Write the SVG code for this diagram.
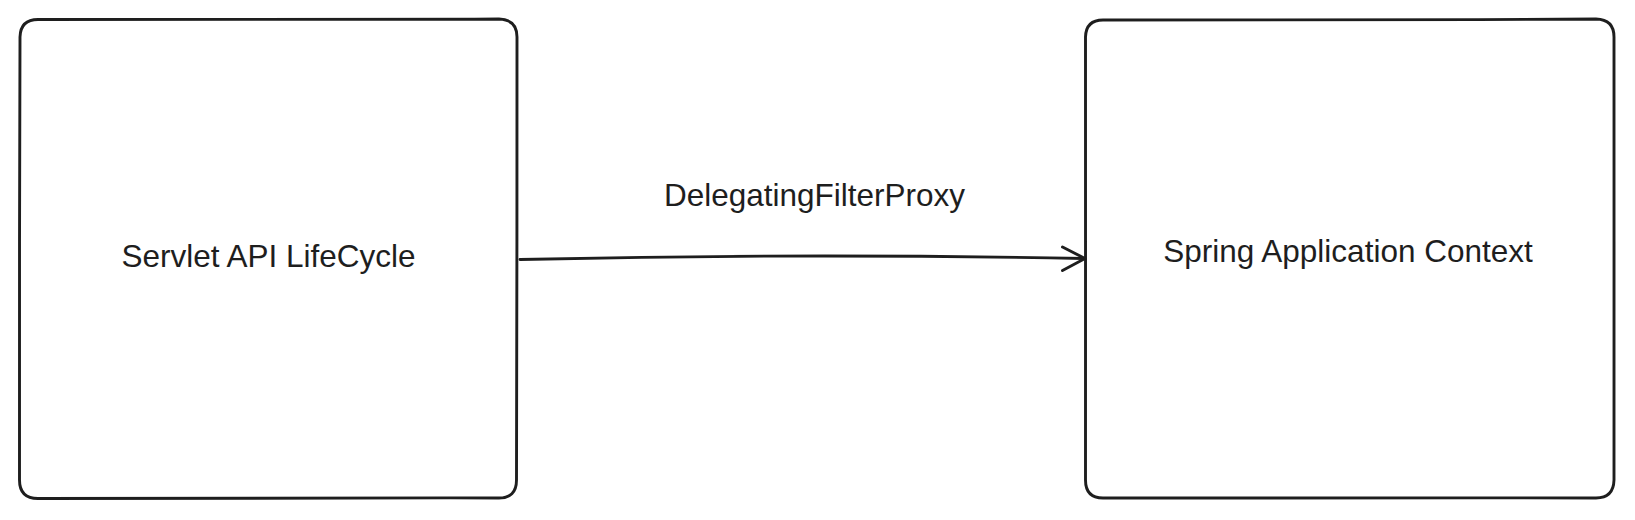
<svg xmlns="http://www.w3.org/2000/svg" width="1635" height="520" viewBox="0 0 1635 520">
  <style>
    .box { fill: #ffffff; stroke: #1e1e1e; stroke-width: 2.9; stroke-linecap: round; stroke-linejoin: round; }
    .edge { fill: none; stroke: #1e1e1e; stroke-width: 2.9; stroke-linecap: round; stroke-linejoin: round; }
    .label { font-family: "Liberation Sans", Arial, Helvetica, sans-serif; font-size: 31.5px; fill: #1e1e1e; text-anchor: middle; }
  </style>
  <rect width="1635" height="520" fill="#ffffff"/>
  <g id="node-servlet">
    <path class="box" d="M38 19.5 C180 18.5 340 20.5 499 19 Q517 19.5 517 37 C516.5 180 517.5 340 516.5 480 Q516.5 498.5 498 498 C340 497.5 180 499 38 498.5 Q19.5 498.5 19.5 480 C20.5 340 18.5 180 20 37 Q20.5 19.5 38 19.5 Z"/>
    <text class="label" x="268.5" y="266.5">Servlet API LifeCycle</text>
  </g>
  <g id="node-spring">
    <path class="box" d="M1103 20 C1260 19 1430 20.5 1596 19 Q1614 19.5 1614 37 C1614.5 180 1613.5 340 1614 480 Q1613.5 498 1596 498 C1430 497.5 1260 498.5 1103 498 Q1085.5 498 1085.5 480 C1085 340 1086 180 1085.5 37 Q1086 20 1103 20 Z"/>
    <text class="label" x="1348" y="261.5">Spring Application Context</text>
  </g>
  <g id="connectors">
    <path class="edge" d="M520 259.5 Q800 253 1084 258.5"/>
    <path class="edge" d="M1062.5 247 L1085 258.5 L1062.5 270.5"/>
    <text class="label" x="814.5" y="205.5">DelegatingFilterProxy</text>
  </g>
</svg>
